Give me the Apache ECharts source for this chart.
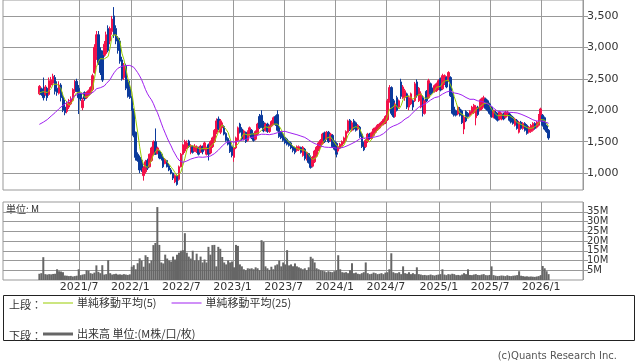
<!DOCTYPE html>
<html><head><meta charset="utf-8">
<script src="https://cdn.jsdelivr.net/npm/echarts@6/dist/echarts.min.js"></script>
<style>html,body{margin:0;padding:0;background:#fff;}#c{width:638px;height:362px;}</style>
</head><body><div id="c"></div>
<script>
// weekly axis: first week Monday 2020-10-05, 295 weeks; data starts at week index 18 (2021-02-08)
const axisStart = [2020, 9, 5];
const numWeeks = 295;
const dataStartIndex = 18;
const priceTicks = [1000, 1500, 2000, 2500, 3000, 3500];
const volumeTicks = [5, 10, 15, 20, 25, 30, 35];
// closes of the 24 weeks before the first candle (used for the moving averages)
const priorCloses = [1800,1780,1760,1790,1770,1750,1760,1740,1600,1500,1450,1430,1460,1480,1550,1620,1650,1680,1700,1720,2100,2250,2300,2350];
// weekly [open, close, low, high]
const ohlc = [
[2260,2380,2240,2400],[2340,2250,2230,2360],[2330,2200,2155,2520],[2250,2370,2230,2400],[2350,2200,2150,2370],
[2250,2470,2230,2520],[2400,2480,2360,2530],[2430,2540,2400,2580],[2520,2300,2250,2560],[2350,2280,2230,2460],
[2270,2400,2250,2460],[2400,2200,2140,2430],[2220,2000,1970,2280],[2050,1960,1920,2170],[1980,2100,1950,2140],
[2050,2130,2020,2180],[2100,2180,2080,2220],[2160,2330,2150,2350],[2300,2450,2270,2480],[2460,2300,2290,2500],
[2350,2200,1940,2400],[2260,2180,2150,2280],[2040,2160,2000,2200],[2280,2180,2150,2300],[2200,2280,2180,2300],
[2240,2310,2220,2330],[2270,2360,2250,2380],[2330,2550,2300,2580],[2600,3000,2580,3050],[2850,3200,2800,3260],
[3200,2750,2720,3260],[2950,2600,2560,3000],[2880,2480,2450,2950],[2880,3050,2850,3100],[2900,3200,2870,3250],
[3300,2950,2920,3350],[3100,3300,3050,3330],[3250,3450,3200,3500],[3500,3200,3150,3640],[3300,3100,3050,3350],
[3150,2950,2900,3180],[3100,2780,2740,3150],[2800,2500,2470,2850],[2520,2700,2480,2750],[2700,2350,2320,2740],
[2450,2220,2200,2500],[2350,2200,2180,2470],[2200,2000,1990,2220],[2000,1600,1570,2030],[1650,1250,1200,1660],
[1300,1200,1180,1330],[1250,1050,1000,1280],[1200,1050,1020,1230],[960,1080,880,1110],[1020,1180,990,1210],
[1200,1080,1050,1230],[1100,1300,1090,1310],[1200,1400,1180,1420],[1300,1500,1280,1520],[1500,1300,1290,1710],
[1310,1400,1300,1420],[1350,1240,1220,1370],[1300,1230,1200,1310],[1250,1100,1080,1280],[1150,1220,1140,1240],
[1200,1100,1090,1210],[1120,1050,1030,1150],[1050,1000,980,1080],[1000,920,890,1010],[860,960,840,980],
[960,820,800,980],[900,1100,880,1120],[1100,1300,1090,1320],[1300,1450,1290,1460],[1350,1500,1320,1530],
[1400,1480,1380,1520],[1510,1420,1400,1530],[1380,1440,1300,1460],[1420,1330,1310,1440],[1350,1430,1340,1460],
[1340,1420,1320,1440],[1400,1300,1280,1420],[1330,1430,1320,1450],[1420,1340,1300,1440],[1380,1480,1360,1500],
[1300,1400,1280,1420],[1450,1300,1200,1470],[1320,1500,1300,1520],[1420,1560,1400,1580],[1500,1680,1480,1700],
[1650,1830,1620,1870],[1860,1700,1680,1900],[1650,1830,1620,1860],[1720,1800,1700,1830],[1740,1620,1600,1760],
[1630,1520,1500,1650],[1550,1460,1440,1570],[1500,1340,1320,1520],[1420,1280,1250,1440],[1250,1400,1180,1420],
[1400,1560,1380,1580],[1520,1720,1500,1740],[1780,1650,1630,1800],[1700,1540,1520,1730],[1540,1670,1520,1690],
[1650,1500,1480,1660],[1520,1660,1500,1680],[1600,1720,1580,1740],[1680,1560,1540,1700],[1620,1520,1500,1640],
[1540,1660,1520,1680],[1620,1780,1600,1800],[1900,1720,1700,1940],[1920,1740,1720,2000],[1800,1670,1650,1830],
[1680,1780,1660,1800],[1780,1660,1640,1800],[1660,1750,1640,1770],[1750,1820,1730,1840],[1780,1880,1760,1900],
[1900,1770,1750,1920],[1930,1680,1660,2000],[1730,1580,1560,1750],[1650,1560,1540,1670],[1620,1520,1500,1640],
[1570,1480,1460,1590],[1540,1460,1440,1560],[1500,1440,1420,1520],[1480,1400,1380,1500],[1420,1360,1330,1440],
[1400,1330,1300,1420],[1360,1420,1340,1440],[1370,1420,1350,1440],[1410,1330,1310,1420],[1280,1410,1260,1430],
[1380,1230,1200,1400],[1230,1330,1200,1340],[1310,1170,1150,1320],[1250,1090,1070,1280],[1110,1250,1090,1270],
[1180,1350,1160,1370],[1270,1410,1250,1430],[1360,1480,1350,1500],[1420,1520,1400,1540],[1470,1620,1450,1640],
[1640,1500,1480,1660],[1550,1650,1530,1670],[1650,1500,1480,1670],[1520,1620,1500,1640],[1600,1420,1400,1620],
[1500,1380,1360,1520],[1470,1300,1250,1490],[1350,1420,1330,1440],[1400,1460,1380,1480],[1440,1500,1420,1520],
[1480,1560,1460,1580],[1520,1660,1500,1680],[1650,1830,1630,1850],[1840,1690,1670,1860],[1680,1800,1660,1830],
[1830,1700,1680,1860],[1800,1680,1660,1820],[1700,1760,1680,1780],[1730,1580,1560,1750],[1620,1420,1400,1640],
[1480,1370,1350,1500],[1420,1520,1400,1540],[1500,1620,1480,1640],[1620,1550,1530,1640],[1550,1640,1530,1660],
[1600,1700,1580,1720],[1650,1720,1630,1740],[1690,1760,1670,1780],[1720,1780,1700,1800],[1760,1810,1740,1830],
[1780,1850,1760,1870],[1800,1900,1780,1920],[1850,2150,1830,2180],[2150,2360,2120,2400],[2360,1950,1920,2380],
[2150,1900,1880,2180],[1900,2100,1880,2120],[2200,2000,1980,2230],[2050,2150,2030,2170],[2450,2220,2180,2500],
[2200,2370,2180,2400],[2200,2310,2150,2340],[2260,2050,2020,2280],[2050,2200,2000,2230],[2100,2260,2080,2280],
[2150,2050,2000,2170],[2150,2420,2130,2450],[2450,2230,2200,2490],[2150,2350,2130,2370],[2050,2260,2030,2300],
[2200,1950,1900,2230],[1950,2150,1930,2170],[2300,2150,2130,2320],[2200,2470,2180,2500],[2420,2260,2240,2440],
[2340,2290,2270,2360],[2300,2390,2280,2410],[2310,2420,2290,2440],[2340,2470,2320,2490],[2500,2320,2300,2520],
[2340,2550,2320,2580],[2420,2550,2400,2570],[2520,2370,2350,2540],[2470,2600,2450,2620],[2520,2230,2210,2540],
[2260,1950,1930,2280],[2050,1920,1900,2080],[1990,1920,1900,2010],[1940,2050,1920,2070],[2020,1920,1900,2050],
[1990,1800,1780,2010],[1700,1890,1620,1920],[1980,1830,1810,2000],[1950,1900,1880,1970],[1920,1980,1900,2000],
[1950,2050,1930,2070],[1960,2080,1940,2100],[1880,2050,1760,2080],[2050,1930,1910,2070],[2000,2150,1980,2170],
[2020,2180,2000,2200],[2060,2200,2040,2230],[2180,2030,2010,2200],[2150,2000,1980,2170],[2100,1950,1930,2120],
[2050,1900,1880,2070],[1890,1990,1870,2010],[1970,1870,1850,1990],[1940,1840,1820,1960],[1860,1970,1840,1990],
[1860,1940,1840,1960],[1940,1860,1840,1960],[1890,1970,1870,1990],[1920,1970,1900,1990],[1940,1840,1820,1960],
[1920,1810,1790,1940],[1890,1790,1770,1910],[1760,1860,1740,1880],[1840,1710,1690,1860],[1650,1810,1630,1830],
[1810,1710,1690,1830],[1710,1790,1690,1810],[1790,1680,1660,1810],[1760,1630,1610,1780],[1650,1730,1630,1750],
[1660,1760,1640,1780],[1680,1790,1660,1810],[1790,1710,1690,1810],[1730,1810,1710,1830],[1760,1920,1740,1940],
[1840,2020,1820,2040],[1920,1760,1740,1940],[1880,1700,1680,1900],[1750,1660,1640,1770],[1680,1560,1530,1700]
];
// weekly volume, millions
const volumeM = [
3.2,3.5,11.7,3.0,2.8,3.0,2.9,3.1,3.2,5.5,
4.5,4.3,4.0,2.3,2.2,2.0,2.1,1.8,2.0,2.2,
5.5,2.5,2.8,3.0,5.0,4.8,3.5,3.2,3.8,7.5,
4.2,3.5,7.6,2.8,3.0,10.2,3.5,2.8,3.0,3.2,
2.8,2.9,2.7,3.0,2.8,2.6,2.9,6.8,7.6,5.5,
8.6,11.1,10.0,6.8,12.7,11.8,8.6,10.0,17.9,19.0,
37.4,18.0,9.0,8.5,13.0,11.0,10.0,9.5,12.0,10.5,
13.0,14.0,15.0,15.3,24.0,14.0,12.0,11.0,15.0,10.0,
13.5,10.0,12.0,9.0,10.5,9.0,17.0,13.0,17.9,18.0,
7.0,17.0,16.0,11.8,9.0,8.0,10.0,9.0,9.5,6.5,
18.0,17.5,8.0,7.0,5.5,5.0,6.0,5.8,6.0,5.5,
6.5,6.0,5.0,20.4,19.5,7.0,6.0,5.2,6.8,5.5,
7.5,8.0,10.0,7.0,9.0,8.0,15.3,7.5,8.0,7.0,
8.5,7.0,6.5,6.0,5.5,6.0,5.0,6.5,11.9,11.0,
9.0,6.0,5.5,5.0,4.8,4.5,4.0,4.5,4.2,4.0,
4.5,5.0,12.7,5.5,4.0,3.8,4.0,3.5,5.0,8.6,
3.5,3.8,3.2,3.0,3.5,4.0,9.0,3.5,3.0,3.2,
3.8,3.5,3.0,3.2,3.5,3.0,3.8,4.0,5.5,13.7,
4.0,3.5,3.5,4.0,3.0,7.0,3.5,3.2,4.0,3.0,
3.5,3.0,6.5,3.0,2.8,2.5,2.6,2.4,2.5,2.8,
2.5,2.3,2.6,2.8,3.0,5.5,2.8,2.5,3.0,2.8,
3.2,3.0,2.5,2.6,2.4,2.8,3.5,3.0,5.5,2.6,
2.5,2.8,3.0,2.6,2.5,2.8,3.0,2.5,2.4,2.6,
7.0,2.5,2.2,2.0,2.1,2.3,2.2,2.0,2.4,2.1,
2.0,2.2,2.3,2.5,4.5,2.2,2.0,1.8,1.9,1.7,
1.8,1.7,1.6,1.8,2.0,2.5,7.2,6.0,4.5,3.0
];

const names = { ma5: '単純移動平均(5)', ma25: '単純移動平均(25)', vol: '出来高 単位:(M株/口/枚)' };

const t0 = Date.UTC(axisStart[0], axisStart[1], axisStart[2]);
const weekDate = i => new Date(t0 + i * 7 * 864e5);
const cats = [];
for (let i = 0; i < numWeeks; i++) { const d = weekDate(i); cats.push(d.getUTCFullYear() + '/' + (d.getUTCMonth() + 1) + '/' + d.getUTCDate()); }
const isMark = i => { if (i < dataStartIndex) return false; const d = weekDate(i); const m = d.getUTCMonth(); return (m === 0 || m === 6) && d.getUTCDate() <= 7; };
const markLabel = v => { const p = v.split('/'); return p[0] + '/' + p[1]; };

const candleData = ohlc.map((r, k) => [k + dataStartIndex, r[0], r[1], r[2], r[3]]);
const allCloses = priorCloses.concat(ohlc.map(r => r[1]));
function sma(n) {
  const out = [];
  for (let i = 0; i < numWeeks; i++) {
    const d = i - dataStartIndex;
    if (d < 0 || d >= ohlc.length) { out.push('-'); continue; }
    const k = d + priorCloses.length; let s = 0;
    for (let j = k - n + 1; j <= k; j++) s += allCloses[j];
    out.push(+(s / n).toFixed(1));
  }
  return out;
}
const volData = cats.map((c, i) => { const d = i - dataStartIndex; return (d >= 0 && d < volumeM.length) ? volumeM[d] : '-'; });

const GRID = '#999';
const TXT = '#333';
const JP = '"Noto Sans CJK JP"';
const chart = echarts.init(document.getElementById('c'), null, { renderer: 'canvas' });
const xBase = (gi, showLabel) => ({
  type: 'category', gridIndex: gi, data: cats, boundaryGap: true,
  axisLine: { show: false }, axisTick: { show: false },
  splitLine: { show: true, interval: (i) => isMark(i), lineStyle: { color: GRID, width: 1 } },
  axisLabel: showLabel ? { show: true, interval: (i) => isMark(i), formatter: markLabel, color: TXT,
    fontFamily: 'DejaVu Sans', fontSize: 11, margin: 2, padding: [0, 3, 0, 0], hideOverlap: false } : { show: false }
});
chart.setOption({
  animation: false,
  backgroundColor: '#fff',
  grid: [
    { left: 3, right: 55, top: -1, height: 191, show: true, borderColor: GRID, borderWidth: 1 },
    { left: 3, right: 55, top: 202, height: 78, show: true, borderColor: GRID, borderWidth: 1 }
  ],
  xAxis: [xBase(0, false), xBase(1, true)],
  yAxis: [
    { type: 'value', gridIndex: 0, position: 'right', min: 731, max: 3753,
      axisLine: { show: false },
      axisTick: { show: true, length: 5, customValues: priceTicks, lineStyle: { color: GRID } },
      axisLabel: { show: true, customValues: priceTicks, color: TXT, fontFamily: 'DejaVu Sans', fontSize: 11, margin: 4,
        hideOverlap: false, formatter: v => v.toLocaleString('en-US') },
      splitLine: { show: true, lineStyle: { color: GRID, width: 1 } } },
    { type: 'value', gridIndex: 1, position: 'right', min: 0, max: 40, interval: 5,
      axisLine: { show: false },
      axisTick: { show: true, length: 5, customValues: volumeTicks, lineStyle: { color: GRID } },
      axisLabel: { show: true, color: TXT, fontFamily: 'DejaVu Sans', fontSize: 10, lineHeight: 9, margin: 4,
        showMinLabel: false, showMaxLabel: false, hideOverlap: false,
        formatter: v => volumeTicks.indexOf(v) >= 0 ? v + 'M' : '' },
      splitLine: { show: true, lineStyle: { color: GRID, width: 1 } } }
  ],
  legend: [
    { left: 43, top: 297.5, padding: 0, itemWidth: 30, itemHeight: 1, itemGap: 15, icon: 'rect', selectedMode: false,
      textStyle: { color: TXT, fontSize: 11, fontFamily: 'Noto Sans CJK JP', padding: [0, 0, 0, -1] },
      data: [{ name: names.ma5, itemStyle: { color: '#99cc00' } }, { name: names.ma25, itemStyle: { color: '#a020f0' } }] },
    { left: 43, top: 328.5, padding: 0, itemWidth: 30, itemHeight: 3, icon: 'rect', selectedMode: false,
      textStyle: { color: TXT, fontSize: 11, fontFamily: 'Noto Sans CJK JP', padding: [0, 0, 0, -1] },
      data: [{ name: names.vol, itemStyle: { color: '#666' } }] }
  ],
  graphic: [
    { type: 'rect', shape: { x: 3.5, y: 295.5, width: 631, height: 45 }, style: { fill: 'none', stroke: '#222', lineWidth: 1 }, silent: true },
    { type: 'text', x: 9, y: 305, style: { text: '上段：', fill: TXT, font: '11px ' + JP, verticalAlign: 'middle' } },
    { type: 'text', x: 9, y: 336, style: { text: '下段：', fill: TXT, font: '11px ' + JP, verticalAlign: 'middle' } },
    { type: 'text', x: 6, y: 209, style: { text: '単位: M', fill: TXT, font: '10px ' + JP, verticalAlign: 'middle' } },
    { type: 'text', x: 617, y: 356, style: { text: '(c)Quants Research Inc.', fill: '#555', font: '10px "DejaVu Sans"', align: 'right', verticalAlign: 'middle' } }
  ],
  series: [
    { type: 'candlestick', name: 'price', xAxisIndex: 0, yAxisIndex: 0, data: candleData,
      encode: { x: 0, y: [1, 2, 3, 4] }, barWidth: 2,
      itemStyle: { color: '#f2124a', color0: '#0b3a9c', borderColor: '#f2124a', borderColor0: '#0b3a9c', borderWidth: 1 } },
    { type: 'line', name: names.ma5, xAxisIndex: 0, yAxisIndex: 0, data: sma(5), showSymbol: false, symbol: 'none',
      lineStyle: { color: '#99cc00', width: 1 }, itemStyle: { color: '#99cc00' } },
    { type: 'line', name: names.ma25, xAxisIndex: 0, yAxisIndex: 0, data: sma(25), showSymbol: false, symbol: 'none',
      lineStyle: { color: '#a020f0', width: 1 }, itemStyle: { color: '#a020f0' } },
    { type: 'bar', name: names.vol, xAxisIndex: 1, yAxisIndex: 1, data: volData, barWidth: 2,
      itemStyle: { color: '#666' } }
  ]
});
</script></body></html>
